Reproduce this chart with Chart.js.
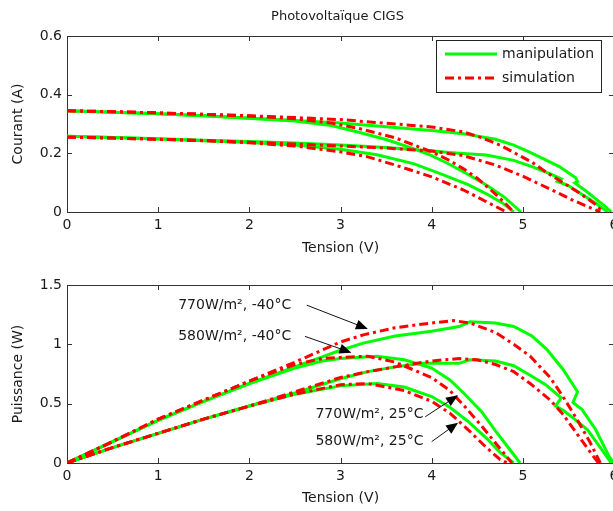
<!DOCTYPE html>
<html>
<head>
<meta charset="utf-8">
<script src="https://cdn.jsdelivr.net/npm/chart.js@4.4.0/dist/chart.umd.min.js"></script>
<style>
  html, body { margin: 0; padding: 0; background: #fff; width: 613px; height: 511px; overflow: hidden; }
  canvas { position: absolute; left: 0; }
</style>
</head>
<body>
<canvas id="iv" width="630" height="260" style="top:0"></canvas>
<canvas id="pv" width="630" height="251" style="top:260px"></canvas>
<script>
// tick values
const tensionTicks = [0, 1, 2, 3, 4, 5, 6];
const courantTicks = [0, 0.2, 0.4, 0.6];
const puissanceTicks = [0, 0.5, 1, 1.5];
const legendLabels = ['manipulation', 'simulation'];

// courbes I-V : [tension, courant]
const ivManip770m40 = [[0,0.345],[0.5,0.340],[1,0.335],[1.5,0.328],[2,0.320],[2.5,0.312],[3,0.303],[3.6,0.288],[4,0.278],[4.35,0.267],[4.7,0.248],[4.9,0.228],[5.08,0.203],[5.25,0.178],[5.4,0.155],[5.58,0.117],[5.6,0.104],[5.57,0.099],[5.7,0.07],[5.8,0.045],[5.9,0.02],[5.97,0]];
const ivSimu770m40 = [[0,0.345],[0.5,0.342],[1,0.338],[1.5,0.333],[2,0.328],[2.5,0.322],[3,0.315],[3.6,0.300],[4,0.290],[4.35,0.273],[4.55,0.253],[4.75,0.228],[4.9,0.203],[5.1,0.170],[5.26,0.135],[5.45,0.098],[5.63,0.063],[5.78,0.030],[5.88,0]];
const ivManip580m40 = [[0,0.258],[0.5,0.254],[1,0.250],[1.5,0.245],[2,0.240],[2.5,0.235],[3,0.228],[3.5,0.220],[4,0.208],[4.3,0.200],[4.6,0.194],[4.9,0.176],[5.1,0.155],[5.3,0.130],[5.42,0.113],[5.38,0.104],[5.5,0.090],[5.65,0.060],[5.8,0.030],[5.93,0]];
const ivSimu580m40 = [[0,0.255],[0.5,0.252],[1,0.248],[1.5,0.244],[2,0.238],[2.5,0.232],[3,0.225],[3.5,0.218],[4,0.208],[4.35,0.192],[4.7,0.160],[5,0.122],[5.3,0.078],[5.55,0.040],[5.85,0]];
const ivManip770p25 = [[0,0.345],[0.5,0.340],[1,0.335],[1.5,0.328],[2,0.320],[2.5,0.310],[2.9,0.295],[3.2,0.272],[3.5,0.247],[3.8,0.216],[4,0.192],[4.2,0.162],[4.4,0.128],[4.6,0.092],[4.8,0.050],[4.98,0]];
const ivSimu770p25 = [[0,0.345],[0.5,0.342],[1,0.338],[1.5,0.333],[2,0.327],[2.5,0.318],[2.9,0.303],[3.2,0.285],[3.6,0.253],[4,0.205],[4.2,0.175],[4.35,0.147],[4.5,0.115],[4.65,0.075],[4.8,0.032],[4.9,0]];
const ivManip580p25 = [[0,0.258],[0.5,0.254],[1,0.249],[1.5,0.243],[2,0.237],[2.5,0.228],[3,0.214],[3.4,0.195],[3.8,0.165],[4.1,0.130],[4.4,0.093],[4.6,0.062],[4.78,0.030],[4.9,0]];
const ivSimu580p25 = [[0,0.255],[0.5,0.252],[1,0.248],[1.5,0.243],[2,0.236],[2.5,0.225],[3,0.205],[3.3,0.188],[3.6,0.160],[4,0.120],[4.35,0.075],[4.6,0.035],[4.82,0]];

// courbes P-V : [tension, puissance]
const pvManip770m40 = [[0,0],[0.5,0.18],[1,0.36],[1.5,0.52],[2,0.67],[2.5,0.81],[3,0.95],[3.25,1.01],[3.6,1.07],[4,1.11],[4.3,1.15],[4.42,1.19],[4.7,1.18],[4.9,1.15],[5.1,1.07],[5.26,0.96],[5.44,0.79],[5.6,0.60],[5.55,0.51],[5.65,0.45],[5.8,0.28],[5.95,0.05],[6,0]];
const pvSimu770m40 = [[0,0],[0.5,0.18],[1,0.37],[1.5,0.53],[2,0.69],[2.5,0.85],[3,1.02],[3.25,1.08],[3.6,1.14],[4,1.18],[4.24,1.20],[4.42,1.18],[4.7,1.10],[4.9,1.00],[5.08,0.90],[5.3,0.72],[5.44,0.56],[5.6,0.36],[5.74,0.17],[5.85,0]];
const pvManip580m40 = [[0,0],[0.5,0.13],[1,0.25],[1.5,0.37],[2,0.48],[2.5,0.59],[3,0.71],[3.3,0.77],[3.6,0.81],[3.9,0.84],[4.3,0.84],[4.42,0.87],[4.7,0.86],[4.9,0.82],[5.08,0.74],[5.25,0.66],[5.42,0.55],[5.36,0.48],[5.45,0.44],[5.55,0.38],[5.71,0.28],[5.85,0.13],[5.97,0]];
const pvSimu580m40 = [[0,0],[0.5,0.13],[1,0.25],[1.5,0.37],[2,0.48],[2.5,0.60],[3,0.72],[3.3,0.77],[3.6,0.81],[4,0.86],[4.3,0.88],[4.5,0.87],[4.7,0.83],[4.9,0.77],[5.08,0.67],[5.3,0.53],[5.44,0.41],[5.6,0.24],[5.75,0.08],[5.83,0]];
const pvManip770p25 = [[0,0],[0.5,0.18],[1,0.36],[1.5,0.52],[2,0.67],[2.5,0.80],[2.8,0.86],[3,0.88],[3.4,0.90],[3.7,0.87],[4,0.80],[4.2,0.70],[4.35,0.59],[4.55,0.43],[4.7,0.27],[4.85,0.12],[4.97,0]];
const pvSimu770p25 = [[0,0],[0.5,0.18],[1,0.37],[1.5,0.53],[2,0.69],[2.5,0.83],[2.8,0.88],[3,0.89],[3.3,0.90],[3.6,0.85],[4,0.72],[4.2,0.61],[4.37,0.47],[4.55,0.31],[4.72,0.15],[4.88,0]];
const pvManip580p25 = [[0,0],[0.5,0.13],[1,0.25],[1.5,0.37],[2,0.48],[2.5,0.58],[3,0.65],[3.4,0.67],[3.7,0.64],[4,0.56],[4.2,0.47],[4.4,0.35],[4.6,0.21],[4.75,0.09],[4.9,0]];
const pvSimu580p25 = [[0,0],[0.5,0.13],[1,0.25],[1.5,0.37],[2,0.48],[2.5,0.58],[3,0.66],[3.3,0.67],[3.7,0.61],[4,0.52],[4.2,0.42],[4.4,0.28],[4.6,0.13],[4.75,0.03],[4.83,0]];

// annotations (data coordinates of the lower plot)
const notes = [
  { text: '770W/m², -40°C', at: [2.46, 1.325], from: [2.63, 1.33], to: [3.30, 1.13] },
  { text: '580W/m², -40°C', at: [2.46, 1.067], from: [2.61, 1.067], to: [3.12, 0.93] },
  { text: '770W/m², 25°C',  at: [3.91, 0.41],  from: [3.93, 0.39],  to: [4.29, 0.57] },
  { text: '580W/m², 25°C',  at: [3.91, 0.18],  from: [4.00, 0.18],  to: [4.29, 0.34] }
];

const FONT = { family: 'DejaVu Sans', size: 14 };
const GREEN = 'rgb(0,255,0)';
const RED = 'rgb(255,0,0)';
const DASHDOT = [9, 4, 3, 4];
const TXT = '#1a1a1a';

function toXY(arr) { return arr.map(p => ({ x: p[0], y: p[1] })); }
function manip(arr) {
  return { data: toXY(arr), borderColor: GREEN, borderWidth: 3, showLine: true, pointRadius: 0, tension: 0, fill: false };
}
function simu(arr) {
  return { data: toXY(arr), borderColor: RED, borderWidth: 3, borderDash: DASHDOT, showLine: true, pointRadius: 0, tension: 0, fill: false };
}

// boite + graduations vers l'interieur, facon matlab
const framePlugin = {
  id: 'frame',
  beforeDatasetsDraw(chart) {
    const { ctx, chartArea: a, scales } = chart;
    ctx.save();
    ctx.strokeStyle = '#333';
    ctx.lineWidth = 1;
    ctx.strokeRect(Math.round(a.left) + 0.5, Math.round(a.top) + 0.5, Math.round(a.right - a.left), Math.round(a.bottom - a.top));
    ctx.beginPath();
    scales.x.ticks.forEach(t => {
      const x = Math.round(scales.x.getPixelForValue(t.value)) + 0.5;
      ctx.moveTo(x, a.bottom); ctx.lineTo(x, a.bottom - 5);
      ctx.moveTo(x, a.top); ctx.lineTo(x, a.top + 5);
    });
    scales.y.ticks.forEach(t => {
      const y = Math.round(scales.y.getPixelForValue(t.value)) + 0.5;
      ctx.moveTo(a.left, y); ctx.lineTo(a.left + 5, y);
      ctx.moveTo(a.right, y); ctx.lineTo(a.right - 5, y);
    });
    ctx.stroke();
    ctx.restore();
  }
};

const titlePlugin = {
  id: 'topTitle',
  afterDraw(chart, args, opts) {
    if (!opts.text) return;
    const { ctx, chartArea: a } = chart;
    ctx.save();
    ctx.font = '13px "DejaVu Sans"';
    ctx.fillStyle = TXT;
    ctx.textAlign = 'center';
    ctx.textBaseline = 'middle';
    ctx.fillText(opts.text, (a.left + a.right) / 2 - 3, 17);
    ctx.restore();
  }
};

const legendPlugin = {
  id: 'boxLegend',
  afterDraw(chart, args, opts) {
    if (!opts.show) return;
    const { ctx, chartArea: a } = chart;
    const x0 = a.right - 178, y0 = a.top + 4, w = 165, h = 52;
    ctx.save();
    ctx.fillStyle = '#fff';
    ctx.fillRect(x0, y0, w, h);
    ctx.strokeStyle = '#222';
    ctx.lineWidth = 1;
    ctx.strokeRect(x0 + 0.5, y0 + 0.5, w, h);
    const styles = [[GREEN, []], [RED, DASHDOT]];
    legendLabels.forEach((lab, i) => {
      const y = y0 + 14 + i * 24;
      ctx.strokeStyle = styles[i][0];
      ctx.setLineDash(styles[i][1]);
      ctx.lineWidth = 3;
      ctx.beginPath();
      ctx.moveTo(x0 + 9, y); ctx.lineTo(x0 + 61, y);
      ctx.stroke();
      ctx.setLineDash([]);
      ctx.fillStyle = TXT;
      ctx.font = '14px "DejaVu Sans"';
      ctx.textBaseline = 'middle';
      ctx.fillText(lab, x0 + 66, y);
    });
    ctx.restore();
  }
};

const notePlugin = {
  id: 'notes',
  afterDraw(chart, args, opts) {
    if (!opts.items) return;
    const { ctx, scales } = chart;
    const px = v => scales.x.getPixelForValue(v);
    const py = v => scales.y.getPixelForValue(v);
    ctx.save();
    opts.items.forEach(n => {
      ctx.fillStyle = TXT;
      ctx.font = '14px "DejaVu Sans"';
      ctx.textAlign = 'right';
      ctx.textBaseline = 'middle';
      ctx.fillText(n.text, px(n.at[0]), py(n.at[1]));
      const x1 = px(n.from[0]), y1 = py(n.from[1]), x2 = px(n.to[0]), y2 = py(n.to[1]);
      const ang = Math.atan2(y2 - y1, x2 - x1);
      ctx.strokeStyle = '#111';
      ctx.lineWidth = 1;
      ctx.beginPath();
      ctx.moveTo(x1, y1); ctx.lineTo(x2 - 9 * Math.cos(ang), y2 - 9 * Math.sin(ang));
      ctx.stroke();
      ctx.fillStyle = '#000';
      ctx.beginPath();
      ctx.moveTo(x2, y2);
      ctx.lineTo(x2 - 12 * Math.cos(ang) + 5 * Math.sin(ang), y2 - 12 * Math.sin(ang) - 5 * Math.cos(ang));
      ctx.lineTo(x2 - 12 * Math.cos(ang) - 5 * Math.sin(ang), y2 - 12 * Math.sin(ang) + 5 * Math.cos(ang));
      ctx.closePath();
      ctx.fill();
    });
    ctx.restore();
  }
};

function makeChart(id, datasets, yTicks, yLabel, topPad, extra) {
  return new Chart(document.getElementById(id), {
    type: 'scatter',
    data: { datasets: datasets },
    plugins: [framePlugin, titlePlugin, legendPlugin, notePlugin],
    options: {
      responsive: false,
      animation: false,
      layout: { padding: { left: 0, top: topPad, right: 16, bottom: 0 } },
      plugins: {
        legend: { display: false },
        tooltip: { enabled: false },
        topTitle: { text: extra.title },
        boxLegend: { show: extra.legend },
        notes: { items: extra.notes }
      },
      scales: {
        x: {
          type: 'linear', min: 0, max: 6,
          afterBuildTicks: s => { s.ticks = tensionTicks.map(v => ({ value: v })); },
          afterFit: s => { s.height = 48; },
          ticks: { padding: 5, color: TXT, font: FONT, callback: v => String(v) },
          grid: { display: false, drawTicks: false },
          border: { display: false },
          title: { display: true, text: 'Tension (V)', color: TXT, font: FONT, padding: { top: 0, bottom: extra.xTitlePad } }
        },
        y: {
          type: 'linear', min: yTicks[0], max: yTicks[yTicks.length - 1],
          afterBuildTicks: s => { s.ticks = yTicks.map(v => ({ value: v })); },
          afterFit: s => { s.width = 67; },
          ticks: { padding: 5, color: TXT, font: FONT, callback: v => String(v) },
          grid: { display: false, drawTicks: false },
          border: { display: false },
          title: { display: true, text: yLabel, color: TXT, font: FONT, padding: { top: 10, bottom: 0 } }
        }
      }
    }
  });
}

makeChart('iv', [
  simu(ivSimu770m40), simu(ivSimu580m40), simu(ivSimu770p25), simu(ivSimu580p25),
  manip(ivManip770m40), manip(ivManip580m40), manip(ivManip770p25), manip(ivManip580p25)
], courantTicks, 'Courant (A)', 36, { title: 'Photovoltaïque CIGS', legend: true, xTitlePad: 3 });

makeChart('pv', [
  simu(pvSimu770m40), simu(pvSimu580m40), simu(pvSimu770p25), simu(pvSimu580p25),
  manip(pvManip770m40), manip(pvManip580m40), manip(pvManip770p25), manip(pvManip580p25)
], puissanceTicks, 'Puissance (W)', 25, { legend: false, notes: notes, xTitlePad: 4 });
</script>
</body>
</html>
